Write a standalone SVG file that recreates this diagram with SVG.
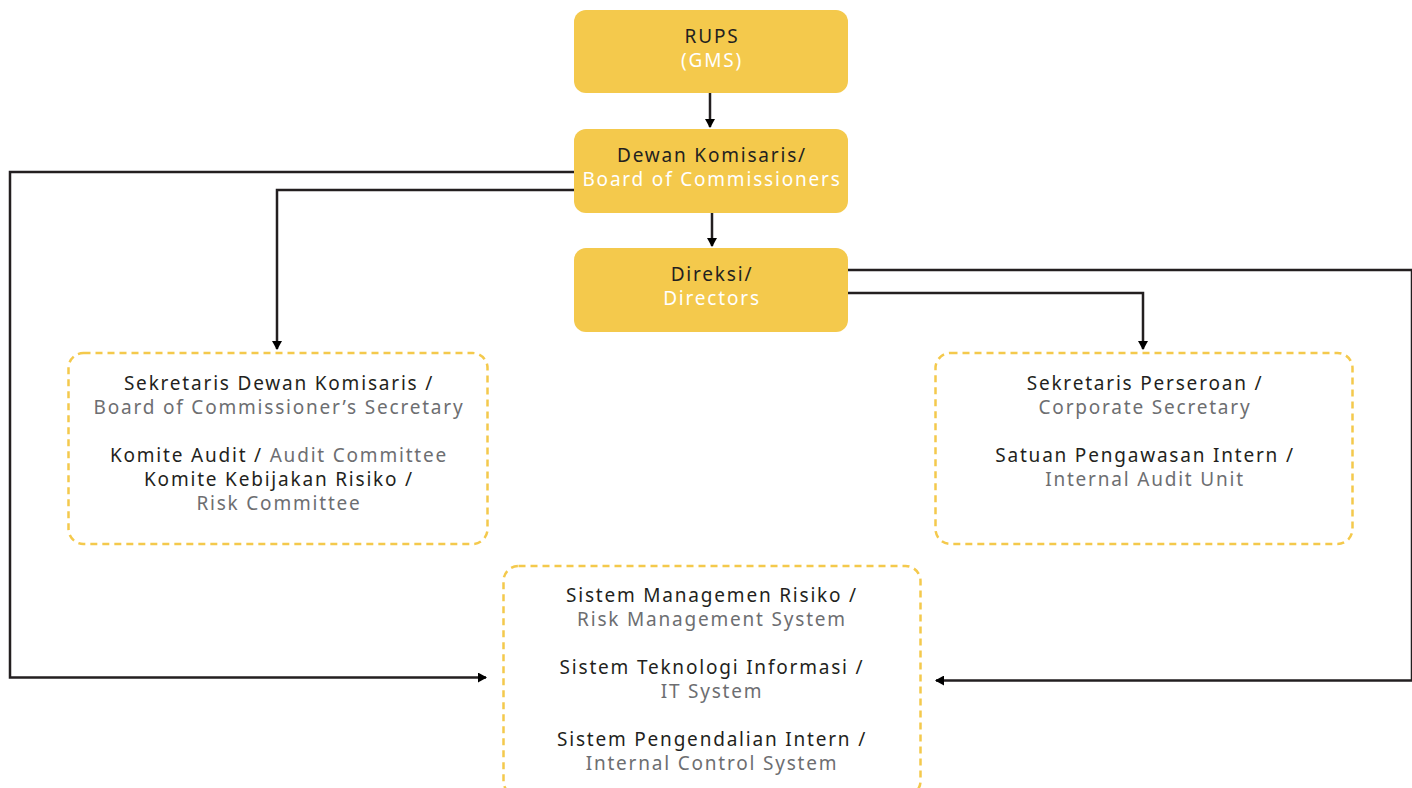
<svg xmlns="http://www.w3.org/2000/svg" width="1412" height="788" viewBox="0 0 1412 788">
  <style>
    .box { fill: #f4c94c; }
    .dash { fill: none; stroke: #f4c94c; stroke-width: 2.5; stroke-dasharray: 7 5; }
    .wire { fill: none; stroke: #231f20; stroke-width: 2.5; }
    text { font-family: "Noto Sans", "Open Sans", sans-serif; font-size: 19px; letter-spacing: 1.8px; text-anchor: middle; dominant-baseline: central; }
    .d { fill: #231f20; }
    .w { fill: #ffffff; }
    .g { fill: #6d6e71; }
  </style>
  <defs>
    <marker id="arrow" markerWidth="10" markerHeight="10" refX="8" refY="5" orient="auto" markerUnits="userSpaceOnUse">
      <path d="M0,0 L9,5 L0,10 Z" fill="#000"/>
    </marker>
  </defs>
  <rect width="1412" height="788" fill="#ffffff"/>

  <g id="connectors">
    <path class="wire" d="M710,93 V127" marker-end="url(#arrow)"/>
    <path class="wire" d="M712,213 V246" marker-end="url(#arrow)"/>
    <path class="wire" d="M574,172 H10 V677.5 H486" marker-end="url(#arrow)"/>
    <path class="wire" d="M574,190 H277 V349" marker-end="url(#arrow)"/>
    <path class="wire" d="M848,270 H1412 V680.5 H936" marker-end="url(#arrow)"/>
    <path class="wire" d="M848,293 H1143 V349" marker-end="url(#arrow)"/>
  </g>

  <g id="rups">
    <rect class="box" x="574" y="10" width="274" height="83" rx="12"/>
    <text class="d" x="712" y="36">RUPS</text>
    <text class="w" x="712" y="60">(GMS)</text>
  </g>

  <g id="board-of-commissioners">
    <rect class="box" x="574" y="129" width="274" height="84" rx="12"/>
    <text class="d" x="712" y="155">Dewan Komisaris/</text>
    <text class="w" x="712" y="179">Board of Commissioners</text>
  </g>

  <g id="directors">
    <rect class="box" x="574" y="248" width="274" height="84" rx="12"/>
    <text class="d" x="712" y="274">Direksi/</text>
    <text class="w" x="712" y="298">Directors</text>
  </g>

  <g id="commissioner-committees">
    <rect class="dash" x="68.5" y="353" width="419" height="191" rx="15"/>
    <text class="d" x="279" y="383">Sekretaris Dewan Komisaris /</text>
    <text class="g" x="279" y="407">Board of Commissioner’s Secretary</text>
    <text x="279" y="455"><tspan class="d">Komite Audit / </tspan><tspan class="g">Audit Committee</tspan></text>
    <text class="d" x="279" y="479">Komite Kebijakan Risiko /</text>
    <text class="g" x="279" y="503">Risk Committee</text>
  </g>

  <g id="corporate-units">
    <rect class="dash" x="935.5" y="353" width="417" height="191" rx="15"/>
    <text class="d" x="1145" y="383">Sekretaris Perseroan /</text>
    <text class="g" x="1145" y="407">Corporate Secretary</text>
    <text class="d" x="1145" y="455">Satuan Pengawasan Intern /</text>
    <text class="g" x="1145" y="479">Internal Audit Unit</text>
  </g>

  <g id="systems">
    <rect class="dash" x="503.5" y="566" width="417" height="230" rx="15"/>
    <text class="d" x="712" y="595">Sistem Managemen Risiko /</text>
    <text class="g" x="712" y="619">Risk Management System</text>
    <text class="d" x="712" y="667">Sistem Teknologi Informasi /</text>
    <text class="g" x="712" y="691">IT System</text>
    <text class="d" x="712" y="739">Sistem Pengendalian Intern /</text>
    <text class="g" x="712" y="763">Internal Control System</text>
  </g>
</svg>
